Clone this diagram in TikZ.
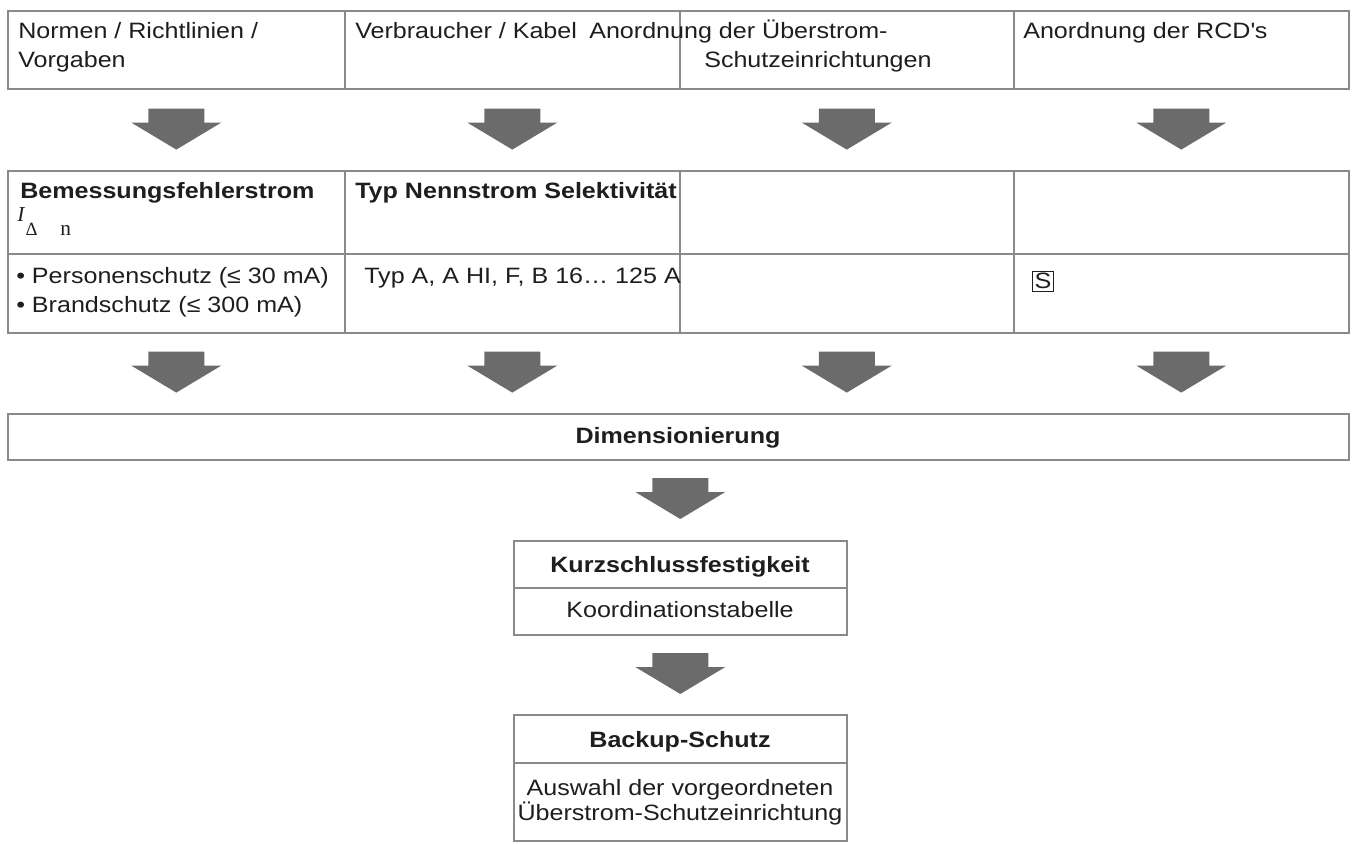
\documentclass[tikz,border=0pt]{standalone}
\usepackage{fontspec}
\setmainfont{Liberation Sans}[FakeStretch=1.13]
\newfontfamily\serifit{Liberation Serif}
\usepackage{tikz}
\usetikzlibrary{calc}

\definecolor{linegray}{HTML}{8A8A8A}
\definecolor{arrowgray}{HTML}{6B6B6B}
\definecolor{textgray}{HTML}{1E1E1E}
\def\unitpx{0.75pt}

\tikzset{
  cell/.style = {draw=linegray, line width=1.2pt, anchor=north west, inner sep=0pt},
  txt/.style = {anchor=base west, inner sep=0pt, text=textgray, font=\fontsize{16.65}{20}\selectfont},
  ctxt/.style = {txt, anchor=base},
  btxt/.style = {txt, font=\fontsize{16.65}{20}\selectfont\bfseries},
  bctxt/.style = {btxt, anchor=base}
}

% grey block arrow, #1 = node, #2 = gap below it
\newcommand{\flowarrow}[2]{\fill[arrowgray] ($(#1)+(-28,#2)$) -- ++(56,0) -- ++(0,14) -- ++(17,0) -- ++(-45,27) -- ++(-45,-27) -- ++(17,0) -- cycle;}

\begin{document}
\begin{tikzpicture}[x=0.75pt, y=-0.75pt]
\useasboundingbox (0,0) rectangle (1353,845);

%top row
\node[cell, minimum width=337*\unitpx, minimum height=78*\unitpx] (n1) at (7,10) {};
\node[cell, minimum width=335*\unitpx, minimum height=78*\unitpx] (n2) at (344,10) {};
\node[cell, minimum width=334*\unitpx, minimum height=78*\unitpx] (n3) at (679,10) {};
\node[cell, minimum width=335*\unitpx, minimum height=78*\unitpx] (n4) at (1013,10) {};

\node[txt] (n1a) at (18,39) {Normen / Richtlinien /};
\node[txt] (n1b) at (18,68) {Vorgaben};
\node[txt] (n2a) at (355,39) {Verbraucher / Kabel};
\node[txt] (n3a) at (589,39) {Anordnung der Überstrom-};
\node[txt] (n3b) at (704,68) {Schutzeinrichtungen};
\node[txt] (n4a) at (1023,39) {Anordnung der RCD\textquotesingle s};

%second table
\foreach \i/\x/\w in {1/7/337, 2/344/335, 3/679/334, 4/1013/335} {
  \node[cell, minimum width=\w*\unitpx, minimum height=83*\unitpx] (h\i) at (\x,170) {};
  \node[cell, minimum width=\w*\unitpx, minimum height=79*\unitpx] (v\i) at (\x,253) {};
}

\node[btxt] (h1a) at (20,199) {Bemessungsfehlerstrom};
\node[txt] (h1b) at (17,221) {{\serifit\itshape\fontsize{16}{16}\selectfont I}\hspace{1pt}\raisebox{-10.5pt}{\serifit\fontsize{14}{14}\selectfont Δ}\hspace{17pt}\raisebox{-10.5pt}{\serifit\fontsize{16}{16}\selectfont n}};
\node[btxt] (h2a) at (355,199) {Typ Nennstrom Selektivität};

\node[txt] (v1a) at (16,283) {• Personenschutz (≤ 30 mA)};
\node[txt] (v1b) at (16,312) {• Brandschutz (≤ 300 mA)};
\node[txt] (v2a) at (364,283) {Typ A, A HI, F, B 16… 125 A};
\node[draw=textgray, line width=0.5pt, inner sep=1.5pt, text=textgray, font=\fontsize{16.65}{20}\selectfont] (v4a) at (1043,281) {S};

%arrows to the second table and below it
\foreach \i in {1,...,4} {
  \flowarrow{n\i.south}{19}
  \flowarrow{v\i.south}{18}
}

%lower part
\node[cell, minimum width=1341*\unitpx, minimum height=46*\unitpx] (dim) at (7,413) {};
\node[bctxt] (dima) at (678,443) {Dimensionierung};

\node[cell, minimum width=333*\unitpx, minimum height=47*\unitpx] (kz1) at (513,540) {};
\node[cell, minimum width=333*\unitpx, minimum height=47*\unitpx] (kz2) at (513,587) {};
\node[bctxt] (kz1a) at (680,572) {Kurzschlussfestigkeit};
\node[ctxt] (kz2a) at (680,617) {Koordinationstabelle};

\node[cell, minimum width=333*\unitpx, minimum height=48*\unitpx] (bk1) at (513,714) {};
\node[cell, minimum width=333*\unitpx, minimum height=78*\unitpx] (bk2) at (513,762) {};
\node[bctxt] (bk1a) at (680,747) {Backup-Schutz};
\node[ctxt] (bk2a) at (680,795) {Auswahl der vorgeordneten};
\node[ctxt] (bk2b) at (680,820) {Überstrom-Schutzeinrichtung};

\flowarrow{kz1.north}{-62}
\flowarrow{bk1.north}{-61}

\end{tikzpicture}
\end{document}
